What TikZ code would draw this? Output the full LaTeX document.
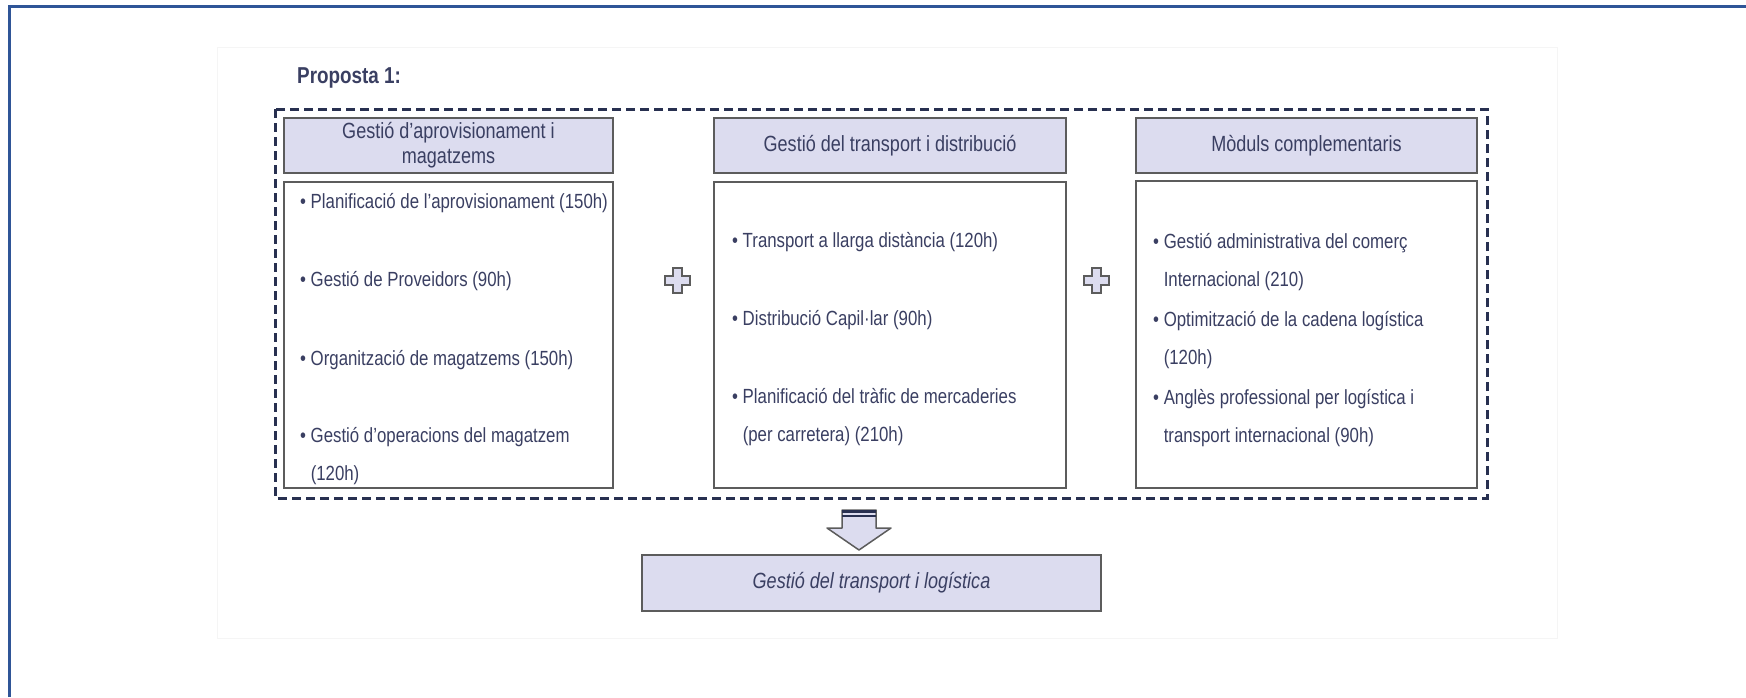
\documentclass[tikz,border=0pt]{standalone}
\usepackage{fontspec}
\setmainfont{Liberation Sans}[FakeStretch=0.82]
\definecolor{txtblue}{HTML}{3A3F62}
\definecolor{headfill}{HTML}{DCDCEF}
\definecolor{boxline}{HTML}{5C5C5C}
\definecolor{framenavy}{HTML}{283050}
\definecolor{pageblue}{HTML}{2F5597}
\tikzset{
  headbox/.style={draw=boxline, line width=2.2pt, fill=headfill, text=txtblue, align=center, inner sep=0pt, font=\fontsize{22}{25}\selectfont},
  bodybox/.style={draw=boxline, line width=2.2pt, fill=white, inner sep=0pt},
  item/.style={anchor=base west, inner sep=0pt, align=left, text=txtblue, font=\fontsize{20.5}{38}\selectfont},
  plussign/.style={draw=boxline, line width=2pt, fill=headfill},
}
\begin{document}
\begin{tikzpicture}[x=1pt, y=-1pt]
	\useasboundingbox (0,0) rectangle (1746,697);
	\draw[pageblue, line width=3pt] (9,697) -- (9,6) -- (1746,6);
	\draw[gray!8, line width=1pt] (217,47) rectangle (1557,638);
	\node[anchor=base west, inner sep=0pt, text=txtblue, font=\fontsize{23}{27}\selectfont\bfseries] (title) at (297,83) {Proposta 1:};
	\draw[framenavy, line width=3pt, dash pattern=on 9pt off 5pt] (275,109) rectangle (1487,498);
	% three columns
	\node[headbox, minimum width=329, minimum height=55] (headA) at (448.5,145.5) {Gestió d’aprovisionament i\\magatzems};
	\node[headbox, minimum width=352, minimum height=55] (headB) at (890,145.5) {Gestió del transport i distribució};
	\node[headbox, minimum width=341, minimum height=55] (headC) at (1306.5,145.5) {Mòduls complementaris};
	\node[bodybox, minimum width=329, minimum height=306] (bodyA) at (448.5,335) {};
	\node[bodybox, minimum width=352, minimum height=306] (bodyB) at (890,335) {};
	\node[bodybox, minimum width=341, minimum height=307] (bodyC) at (1306.5,334.5) {};
	% items, base = last line
	\node[item] (itemA1) at (300,208) {• Planificació de l’aprovisionament (150h)};
	\node[item] (itemA2) at (300,286) {• Gestió de Proveidors (90h)};
	\node[item] (itemA3) at (300,365) {• Organització de magatzems (150h)};
	\node[item] (itemA4) at (300,480) {• Gestió d’operacions del magatzem\\\phantom{• }(120h)};
	\node[item] (itemB1) at (732,247) {• Transport a llarga distància (120h)};
	\node[item] (itemB2) at (732,325) {• Distribució Capil·lar (90h)};
	\node[item] (itemB3) at (732,441) {• Planificació del tràfic de mercaderies\\\phantom{• }(per carretera) (210h)};
	\node[item] (itemC1) at (1153,286) {• Gestió administrativa del comerç\\\phantom{• }Internacional (210)};
	\node[item] (itemC2) at (1153,364) {• Optimització de la cadena logística\\\phantom{• }(120h)};
	\node[item] (itemC3) at (1153,442) {• Anglès professional per logística i\\\phantom{• }transport internacional (90h)};
	\foreach \px in {677,1096}
		\draw[plussign] (\px,280) ++(-4.5,-12.5) -- ++(9,0) -- ++(0,8) -- ++(8,0) -- ++(0,9) -- ++(-8,0) -- ++(0,8) -- ++(-9,0) -- ++(0,-8) -- ++(-8,0) -- ++(0,-9) -- ++(8,0) -- cycle;
	% result
	\node[headbox, minimum width=459, minimum height=56, font=\fontsize{22}{26}\selectfont\itshape] (goal) at (871.5,583) {Gestió del transport i logística};
	\coordinate (tip) at (859,550);
	\draw[boxline, line width=1.5pt, fill=headfill, line join=round] (tip) -- ++(-32,-22) -- ++(15,0) -- ++(0,-18) -- ++(34,0) -- ++(0,18) -- ++(15,0) -- cycle;
	\draw[framenavy, line width=3pt] (842,511.5) -- (876,511.5);
	\draw[framenavy, line width=1.5pt] (842,516) -- (876,516);
\end{tikzpicture}
\end{document}
